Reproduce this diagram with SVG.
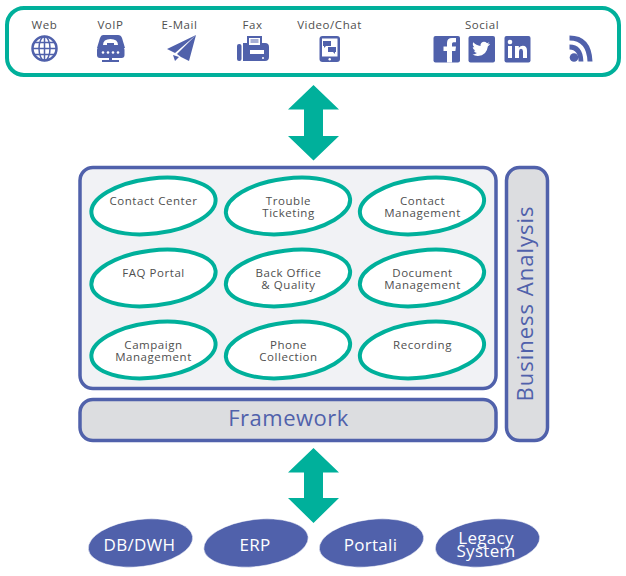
<svg xmlns="http://www.w3.org/2000/svg" width="626" height="576" viewBox="0 0 626 576">
<style>
text{font-family:"Open Sans","Liberation Sans",sans-serif;text-anchor:middle}
.l{font-size:11.5px;fill:#4f4f4f;letter-spacing:.55px}
.o{fill:#fff;stroke:#00b09b;stroke-width:4}
.b{fill:#5061ab;stroke:#fff;stroke-width:.5}
.t{font-size:17px;fill:#fff;letter-spacing:.3px}
.i{fill:#5061ab}
.w{fill:#fff}
.s{fill:none;stroke:#5061ab}
.ba{fill:#5061ab;font-size:22px;letter-spacing:1px}
</style>
<rect width="626" height="576" fill="#fff"/>
<g id="channels">
<rect x="7" y="8" width="612" height="67" rx="17" fill="#fff" stroke="#00b09b" stroke-width="4"/>
<text class="l" x="44.500" y="29">Web</text>
<text class="l" x="110.500" y="29">VoIP</text>
<text class="l" x="179.500" y="29">E-Mail</text>
<text class="l" x="252.500" y="29">Fax</text>
<text class="l" x="329.500" y="29" letter-spacing=".9">Video/Chat</text>
<text class="l" x="482" y="29">Social</text>
<g id="icon-web"><circle cx="44.500" cy="48.500" r="12" class="s" stroke-width="2.500"/><ellipse cx="44.500" cy="48.500" rx="5.500" ry="12" class="s" stroke-width="1.500"/><path d="M44.500 36.500V60.500M32.500 48.500H56.500M34.500 42.500H54.500M34.500 54.500H54.500" class="s" stroke-width="1.500"/></g>
<g id="icon-voip"><path class="i" d="M103 35h15q3 0 4 3l3 10H97l3-10q1-3 3-3z"/><rect class="i" x="97" y="47" width="27.500" height="11" rx="3"/><path class="w" d="M103 45q0-6 7.500-6t7.500 6h-4v-2h-7v2z"/><circle class="w" cx="103" cy="52.500" r="1.300"/><circle class="w" cx="108" cy="52.500" r="1.300"/><circle class="w" cx="113" cy="52.500" r="1.300"/><circle class="w" cx="118" cy="52.500" r="1.300"/><path class="i" d="M109 58h3v2h7v2h-17v-2h7z"/></g>
<g id="icon-email"><path class="i" d="M196 35L167 49l8 4zM196 35L177 54l4 3 8 4zM173 55l6 2-4 4z"/></g>
<g id="icon-fax"><rect class="i" x="237" y="44" width="4.500" height="17" rx="2"/><path class="i" d="M243 43h4V36h15v7h3q4 0 4 4v10q0 4-4 4h-22z"/><path class="w" d="M249 38h11v7h-11z"/><path class="i" d="M250.500 39.500h8v1h-8zM250.500 41.500h8v1h-8z"/><rect class="w" x="250" y="50" width="14" height="4"/><circle class="w" cx="263" cy="58" r="1"/></g>
<g id="icon-chat"><rect class="i" x="319.500" y="36" width="20.500" height="26" rx="3"/><rect class="w" x="322" y="38.500" width="15.500" height="18"/><path class="i" d="M323 41h8v5h-5l-2 2v-2h-1zM328 47h8v5h-1v2l-2-2h-5z"/><circle class="w" cx="329.700" cy="59.300" r="1.200"/></g>
<g id="icon-facebook"><rect class="i" x="433.500" y="36" width="26.500" height="26.500" rx="2"/><path class="w" d="M447 62.500V51h-3.500v-4.500H447V43q0-5 5-5h4v4.200H453.500q-1.500 0-1.500 1.500v2.800h4l-.6 4.500h-3.400v11.500z"/></g>
<g id="icon-twitter"><rect class="i" x="468.500" y="36" width="26.500" height="26.500" rx="2"/><path class="w" transform="translate(481.750 49.250) scale(.8) translate(-481 -49.500)" d="M491 42.500q-1.200.6-2.500.8 1.400-.9 2-2.400-1.300.8-2.800 1-3.800-3.400-7.300-.3-1.400 1.700-.9 3.700-5.500-.3-9-4.400-1.800 3.500 1.200 6.200-1 0-2-.5 0 3.300 3.300 4.500-1 .3-2 .1 1 2.800 4 3-2.700 2.100-6 1.700 3.400 2.100 7 2 11 .2 12.700-12 1.300-1 2.300-2.200z"/></g>
<g id="icon-linkedin"><rect class="i" x="504.500" y="36" width="26" height="26.500" rx="2"/><rect class="w" x="508" y="46" width="4" height="12"/><circle class="w" cx="510" cy="42" r="2.300"/><path class="w" d="M515 46h3.800v1.800q1.500-2.100 4-2.100 4.200 0 4.200 5V58h-4v-6.500q0-2.700-2-2.700t-2 2.700V58h-4z"/></g>
<g id="icon-rss"><circle class="i" cx="574" cy="57.500" r="4.300"/><path class="s" d="M569.500 47q11 0 11.500 14.500" stroke-width="4.800"/><path class="s" d="M569.500 38q19.500 0 20.500 23.500" stroke-width="5"/></g>
</g>
<g id="connectors">
<path fill="#00b09b" d="M313.500 85L339 109.500H323V136H339L313.500 160.500 288 136H304V109.500H288z"/>
<path fill="#00b09b" d="M313.500 448L339 472.500H323V498H339L313.500 523 288 498H304V472.500H288z"/>
</g>
<g id="main"><rect x="80" y="167.500" width="416" height="221" rx="13" fill="#f1f2f5" stroke="#5061ab" stroke-width="3.500"/></g>
<g id="framework"><rect x="80" y="399.500" width="416" height="41" rx="13" fill="#dcdde0" stroke="#5061ab" stroke-width="3.500"/><text x="288.500" y="426" fill="#5061ab" font-size="22" letter-spacing=".5">Framework</text></g>
<g id="business-analysis"><rect x="506.500" y="167.500" width="41" height="273" rx="13" fill="#dcdde0" stroke="#5061ab" stroke-width="3.500"/><text class="ba" transform="translate(533 303.500) rotate(-90)">Business Analysis</text></g>
<g id="n1"><ellipse class="o" cx="153.500" cy="206" rx="62.500" ry="27.500" transform="rotate(-7 153.500 206)"/><text class="l" x="153.500" y="205">Contact Center</text></g>
<g id="n2"><ellipse class="o" cx="288" cy="206" rx="62.500" ry="27.500" transform="rotate(-7 288 206)"/><text class="l" x="288.500" y="205">Trouble</text><text class="l" x="288.500" y="217">Ticketing</text></g>
<g id="n3"><ellipse class="o" cx="422" cy="206" rx="62.500" ry="27.500" transform="rotate(-7 422 206)"/><text class="l" x="422.500" y="205">Contact</text><text class="l" x="422.500" y="217">Management</text></g>
<g id="n4"><ellipse class="o" cx="153.500" cy="278" rx="62.500" ry="27.500" transform="rotate(-7 153.500 278)"/><text class="l" x="153.500" y="277">FAQ Portal</text></g>
<g id="n5"><ellipse class="o" cx="288" cy="278" rx="62.500" ry="27.500" transform="rotate(-7 288 278)"/><text class="l" x="288.500" y="277">Back Office</text><text class="l" x="288.500" y="289">&amp; Quality</text></g>
<g id="n6"><ellipse class="o" cx="422" cy="278" rx="62.500" ry="27.500" transform="rotate(-7 422 278)"/><text class="l" x="422.500" y="277">Document</text><text class="l" x="422.500" y="289">Management</text></g>
<g id="n7"><ellipse class="o" cx="153.500" cy="350" rx="62.500" ry="27.500" transform="rotate(-7 153.500 350)"/><text class="l" x="153.500" y="349">Campaign</text><text class="l" x="153.500" y="361">Management</text></g>
<g id="n8"><ellipse class="o" cx="288" cy="350" rx="62.500" ry="27.500" transform="rotate(-7 288 350)"/><text class="l" x="288.500" y="349">Phone</text><text class="l" x="288.500" y="361">Collection</text></g>
<g id="n9"><ellipse class="o" cx="422" cy="350" rx="62.500" ry="27.500" transform="rotate(-7 422 350)"/><text class="l" x="422.500" y="349">Recording</text></g>
<g id="db"><ellipse class="b" cx="140.500" cy="543" rx="52.500" ry="23.500" transform="rotate(-7 140.500 543)"/><text class="t" x="139.500" y="551" letter-spacing="1.200">DB/DWH</text></g>
<g id="erp"><ellipse class="b" cx="256" cy="543" rx="52.500" ry="23.500" transform="rotate(-7 256 543)"/><text class="t" x="255" y="551">ERP</text></g>
<g id="portali"><ellipse class="b" cx="371.500" cy="543" rx="52.500" ry="23.500" transform="rotate(-7 371.500 543)"/><text class="t" x="370.500" y="551">Portali</text></g>
<g id="legacy"><ellipse class="b" cx="487.500" cy="543" rx="52.500" ry="23.500" transform="rotate(-7 487.500 543)"/><text class="t" x="486" y="544">Legacy</text><text class="t" x="486" y="557">System</text></g>
</svg>
